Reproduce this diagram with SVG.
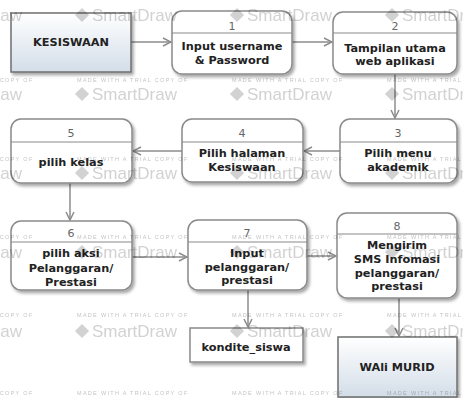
<svg xmlns="http://www.w3.org/2000/svg" xmlns:xlink="http://www.w3.org/1999/xlink" width="463" height="398" viewBox="0 0 463 398">
  <defs>
    <linearGradient id="entityFill" x1="0" y1="0" x2="0" y2="1">
      <stop offset="0" stop-color="#ffffff"/>
      <stop offset="1" stop-color="#d3dde8"/>
    </linearGradient>
    <filter id="shadow" x="-10%" y="-10%" width="125%" height="130%">
      <feDropShadow dx="2" dy="2.5" stdDeviation="1.6" flood-color="#000" flood-opacity="0.35"/>
    </filter>
    <marker id="arr" viewBox="0 0 10 10" refX="9" refY="5" markerWidth="10" markerHeight="10" markerUnits="userSpaceOnUse" orient="auto">
      <path d="M1,1 L9,5 L1,9" fill="none" stroke="#8c8c8c" stroke-width="1.5"/>
    </marker>
    <g id="wmLogo">
      <rect x="-5" y="-5" width="10" height="10" transform="rotate(45)" fill="#d2d2d2"/>
      <text x="10" y="6" class="wmBig">SmartDraw</text>
    </g>
    <text id="wmLine" class="wmSmall">MADE WITH A TRIAL COPY OF</text>
  </defs>
  <style>
    .box { fill:#ffffff; stroke:#8a8a8a; stroke-width:1.5; filter:url(#shadow); }
    .entity { fill:url(#entityFill); stroke:#6f6f6f; stroke-width:1.5; filter:url(#shadow); }
    .store { fill:#ffffff; stroke:#8a8a8a; stroke-width:1.5; filter:url(#shadow); }
    .divider { stroke:#8a8a8a; stroke-width:1.2; }
    .lbl { font-family:"DejaVu Sans", Verdana, sans-serif; font-weight:bold; font-size:11.3px; fill:#222; text-anchor:middle; }
    .num { font-family:"DejaVu Sans", Verdana, sans-serif; font-size:11px; fill:#666; text-anchor:middle; }
    .conn { stroke:#8c8c8c; stroke-width:1.5; fill:none; marker-end:url(#arr); }
    .wmBig { font-family:"Liberation Sans", Arial, sans-serif; font-size:17px; fill:#d2d2d2; }
    .wmSmall { font-family:"Liberation Sans", Arial, sans-serif; font-size:5.5px; letter-spacing:1.3px; fill:#c4c4c4; }
    #watermark { mix-blend-mode:multiply; }
  </style>

  <rect width="463" height="398" fill="#ffffff"/>

  <!-- connectors -->
  <g id="connectors">
    <path class="conn" d="M131,42 L171,42"/>
    <path class="conn" d="M292,42 L332,42"/>
    <path class="conn" d="M395,74 L395,118"/>
    <path class="conn" d="M340,151 L304,151"/>
    <path class="conn" d="M182,151 L133,151"/>
    <path class="conn" d="M70,183 L70,220"/>
    <path class="conn" d="M132,257 L187,257"/>
    <path class="conn" d="M307,256 L336,256"/>
    <path class="conn" d="M248,290 L248,327"/>
    <path class="conn" d="M399,298 L399,336"/>
  </g>

  <!-- external entity -->
  <g id="kesiswaan">
    <rect class="entity" x="11" y="13" width="120" height="59"/>
    <text class="lbl" x="71" y="46">KESISWAAN</text>
  </g>

  <!-- processes -->
  <g id="p1">
    <rect class="box" x="172" y="11" width="120" height="63" rx="10"/>
    <line class="divider" x1="172" y1="33" x2="292" y2="33"/>
    <text class="num" x="232" y="30">1</text>
    <text class="lbl" x="232" y="50">Input username</text>
    <text class="lbl" x="232" y="64">&amp; Password</text>
  </g>
  <g id="p2">
    <rect class="box" x="333" y="12" width="124" height="62" rx="10"/>
    <line class="divider" x1="333" y1="33" x2="457" y2="33"/>
    <text class="num" x="395" y="30">2</text>
    <text class="lbl" x="395" y="52">Tampilan utama</text>
    <text class="lbl" x="395" y="65">web aplikasi</text>
  </g>
  <g id="p3">
    <rect class="box" x="340" y="119" width="117" height="64" rx="10"/>
    <line class="divider" x1="340" y1="142" x2="457" y2="142"/>
    <text class="num" x="398" y="137">3</text>
    <text class="lbl" x="398" y="157">Pilih menu</text>
    <text class="lbl" x="398" y="171">akademik</text>
  </g>
  <g id="p4">
    <rect class="box" x="182" y="119" width="121" height="63" rx="10"/>
    <line class="divider" x1="182" y1="142" x2="303" y2="142"/>
    <text class="num" x="242" y="137">4</text>
    <text class="lbl" x="242" y="157">Pilih halaman</text>
    <text class="lbl" x="242" y="171">Kesiswaan</text>
  </g>
  <g id="p5">
    <rect class="box" x="11" y="119" width="121" height="64" rx="10"/>
    <line class="divider" x1="11" y1="142" x2="132" y2="142"/>
    <text class="num" x="71" y="137">5</text>
    <text class="lbl" x="71" y="166">pilih kelas</text>
  </g>
  <g id="p6">
    <rect class="box" x="11" y="221" width="121" height="69" rx="10"/>
    <line class="divider" x1="11" y1="242" x2="132" y2="242"/>
    <text class="num" x="71" y="237">6</text>
    <text class="lbl" x="71" y="257">pilih aksi</text>
    <text class="lbl" x="71" y="272">Pelanggaran/</text>
    <text class="lbl" x="71" y="286">Prestasi</text>
  </g>
  <g id="p7">
    <rect class="box" x="188" y="220" width="119" height="70" rx="10"/>
    <line class="divider" x1="188" y1="242" x2="307" y2="242"/>
    <text class="num" x="247" y="237">7</text>
    <text class="lbl" x="247" y="257">Input</text>
    <text class="lbl" x="247" y="271">pelanggaran/</text>
    <text class="lbl" x="247" y="284">prestasi</text>
  </g>
  <g id="p8">
    <rect class="box" x="337" y="213" width="120" height="85" rx="10"/>
    <line class="divider" x1="337" y1="234" x2="457" y2="234"/>
    <text class="num" x="397" y="230">8</text>
    <text class="lbl" x="397" y="249">Mengirim</text>
    <text class="lbl" x="397" y="263">SMS Infomasi</text>
    <text class="lbl" x="397" y="277">pelanggaran/</text>
    <text class="lbl" x="397" y="290">prestasi</text>
  </g>

  <!-- data store -->
  <g id="kondite_siswa">
    <rect class="store" x="190" y="328" width="113" height="34"/>
    <text class="lbl" x="246" y="351">kondite_siswa</text>
  </g>

  <!-- external entity -->
  <g id="wali_murid">
    <rect class="entity" x="338" y="337" width="119" height="60"/>
    <text class="lbl" x="397" y="371">WAli MURID</text>
  </g>

  <!-- trial watermark overlay -->
  <g id="watermark">
    <use xlink:href="#wmLogo" x="-73" y="15"/><use xlink:href="#wmLogo" x="82" y="15"/><use xlink:href="#wmLogo" x="237" y="15"/><use xlink:href="#wmLogo" x="392" y="15"/>
    <use xlink:href="#wmLogo" x="-73" y="94"/><use xlink:href="#wmLogo" x="82" y="94"/><use xlink:href="#wmLogo" x="237" y="94"/><use xlink:href="#wmLogo" x="392" y="94"/>
    <use xlink:href="#wmLogo" x="-73" y="173"/><use xlink:href="#wmLogo" x="82" y="173"/><use xlink:href="#wmLogo" x="237" y="173"/><use xlink:href="#wmLogo" x="392" y="173"/>
    <use xlink:href="#wmLogo" x="-73" y="252"/><use xlink:href="#wmLogo" x="82" y="252"/><use xlink:href="#wmLogo" x="237" y="252"/><use xlink:href="#wmLogo" x="392" y="252"/>
    <use xlink:href="#wmLogo" x="-73" y="331"/><use xlink:href="#wmLogo" x="82" y="331"/><use xlink:href="#wmLogo" x="237" y="331"/><use xlink:href="#wmLogo" x="392" y="331"/>
    <use xlink:href="#wmLine" x="-78" y="82"/><use xlink:href="#wmLine" x="77" y="82"/><use xlink:href="#wmLine" x="232" y="82"/><use xlink:href="#wmLine" x="387" y="82"/>
    <use xlink:href="#wmLine" x="-78" y="161"/><use xlink:href="#wmLine" x="77" y="161"/><use xlink:href="#wmLine" x="232" y="161"/><use xlink:href="#wmLine" x="387" y="161"/>
    <use xlink:href="#wmLine" x="-78" y="239"/><use xlink:href="#wmLine" x="77" y="239"/><use xlink:href="#wmLine" x="232" y="239"/><use xlink:href="#wmLine" x="387" y="239"/>
    <use xlink:href="#wmLine" x="-78" y="317"/><use xlink:href="#wmLine" x="77" y="317"/><use xlink:href="#wmLine" x="232" y="317"/><use xlink:href="#wmLine" x="387" y="317"/>
    <use xlink:href="#wmLine" x="-78" y="395"/><use xlink:href="#wmLine" x="77" y="395"/><use xlink:href="#wmLine" x="232" y="395"/><use xlink:href="#wmLine" x="387" y="395"/>
  </g>
</svg>
